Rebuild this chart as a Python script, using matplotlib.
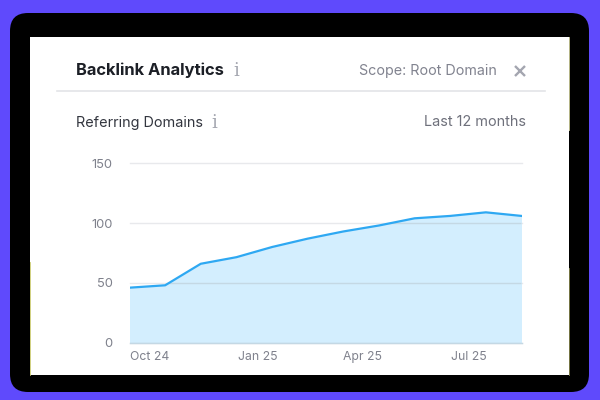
import matplotlib
matplotlib.use("Agg")
import matplotlib.pyplot as plt
from matplotlib.patches import FancyBboxPatch, Rectangle

plt.rcParams['font.family'] = ['Inter', 'DejaVu Sans']

months = list(range(12))
domains = [46, 48, 66, 71.5, 80, 87, 93, 98, 104, 106, 109, 106]
y_ticks = [0, 50, 100, 150]
x_tick_pos = [0.57, 3.6, 6.55, 9.53]
x_tick_labels = ["Oct 24", "Jan 25", "Apr 25", "Jul 25"]

W, H = 600, 400
fig = plt.figure(figsize=(6, 4), dpi=100, facecolor="#5f4afc")

# page layer in pixel coordinates, y pointing down
bg = fig.add_axes([0, 0, 1, 1])
bg.set_xlim(0, W)
bg.set_ylim(H, 0)
bg.axis("off")
bg.add_patch(FancyBboxPatch((10, 13), 579, 379, boxstyle="round,pad=0,rounding_size=18",
                            fc="black", ec="none"))
bg.add_patch(Rectangle((30, 37), 539, 338, fc="white", ec="none"))
bg.plot([30.3, 30.3], [262, 375], color="#c9c96a", lw=0.6)
bg.plot([568.7, 568.7], [37, 130], color="#d8d8a0", lw=0.6)
bg.plot([568.7, 568.7], [268, 375], color="#8a8a50", lw=0.6)
bg.plot([57, 545], [91, 91], color="#e3e4e8", lw=1.2)

bg.text(76, 70.5, "Backlink Analytics", fontsize=11.9, fontweight="bold", color="#1c1f26",
        va="center", ha="left")
bg.text(236.5, 70.5, "i", fontsize=13, family="DejaVu Serif", color="#a4a6b0",
        va="center", ha="center")
bg.text(497, 71, "Scope: Root Domain", fontsize=10.3, color="#81838f", va="center", ha="right")
bg.plot([520], [71], marker="x", ms=7.5, mew=1.7, color="#a4a6b0")
bg.text(76, 122.5, "Referring Domains", fontsize=10.4, color="#33363f", va="center", ha="left")
bg.text(214.5, 123, "i", fontsize=13, family="DejaVu Serif", color="#a4a6b0",
        va="center", ha="center")
bg.text(526.5, 122.5, "Last 12 months", fontsize=10.4, color="#6e707b", va="center", ha="right")

# chart axes
left, right, top, bottom = 129.5, 521.5, 163.3, 342.7
ax = fig.add_axes([left / W, 1 - bottom / H, (right - left) / W, (bottom - top) / H])
ax.patch.set_alpha(0)
area = ax.fill_between(months, domains, 0, color="#d3eefe", lw=0, zorder=1)
ax.plot(months, domains, color="#2ea8f2", lw=1.6, solid_joinstyle="round", zorder=3)
ax.set_xlim(0, 11)
ax.set_ylim(0, 150)
for v in y_ticks:
    ax.axhline(v, color="#e8e9ec", lw=1, zorder=0, clip_on=False)
    # grid shows through the fill a bit darker
    shade = ax.axhline(v, color="#c4d8e4", lw=1, zorder=2)
    shade.set_clip_path(area.get_paths()[0], area.get_transform())
ax.plot([0, 11], [0, 0], color="#c4d8e4", lw=1, zorder=2, clip_on=False)
for s in ax.spines.values():
    s.set_visible(False)
ax.set_yticks(y_ticks)
ax.set_xticks(x_tick_pos)
ax.set_xticklabels(x_tick_labels)
ax.tick_params(axis="both", length=0, labelcolor="#7f818c")
ax.tick_params(axis="y", pad=12, labelsize=9.3)
ax.tick_params(axis="x", pad=6, labelsize=8.8)

fig.savefig("out.png", dpi=100, facecolor=fig.get_facecolor())
